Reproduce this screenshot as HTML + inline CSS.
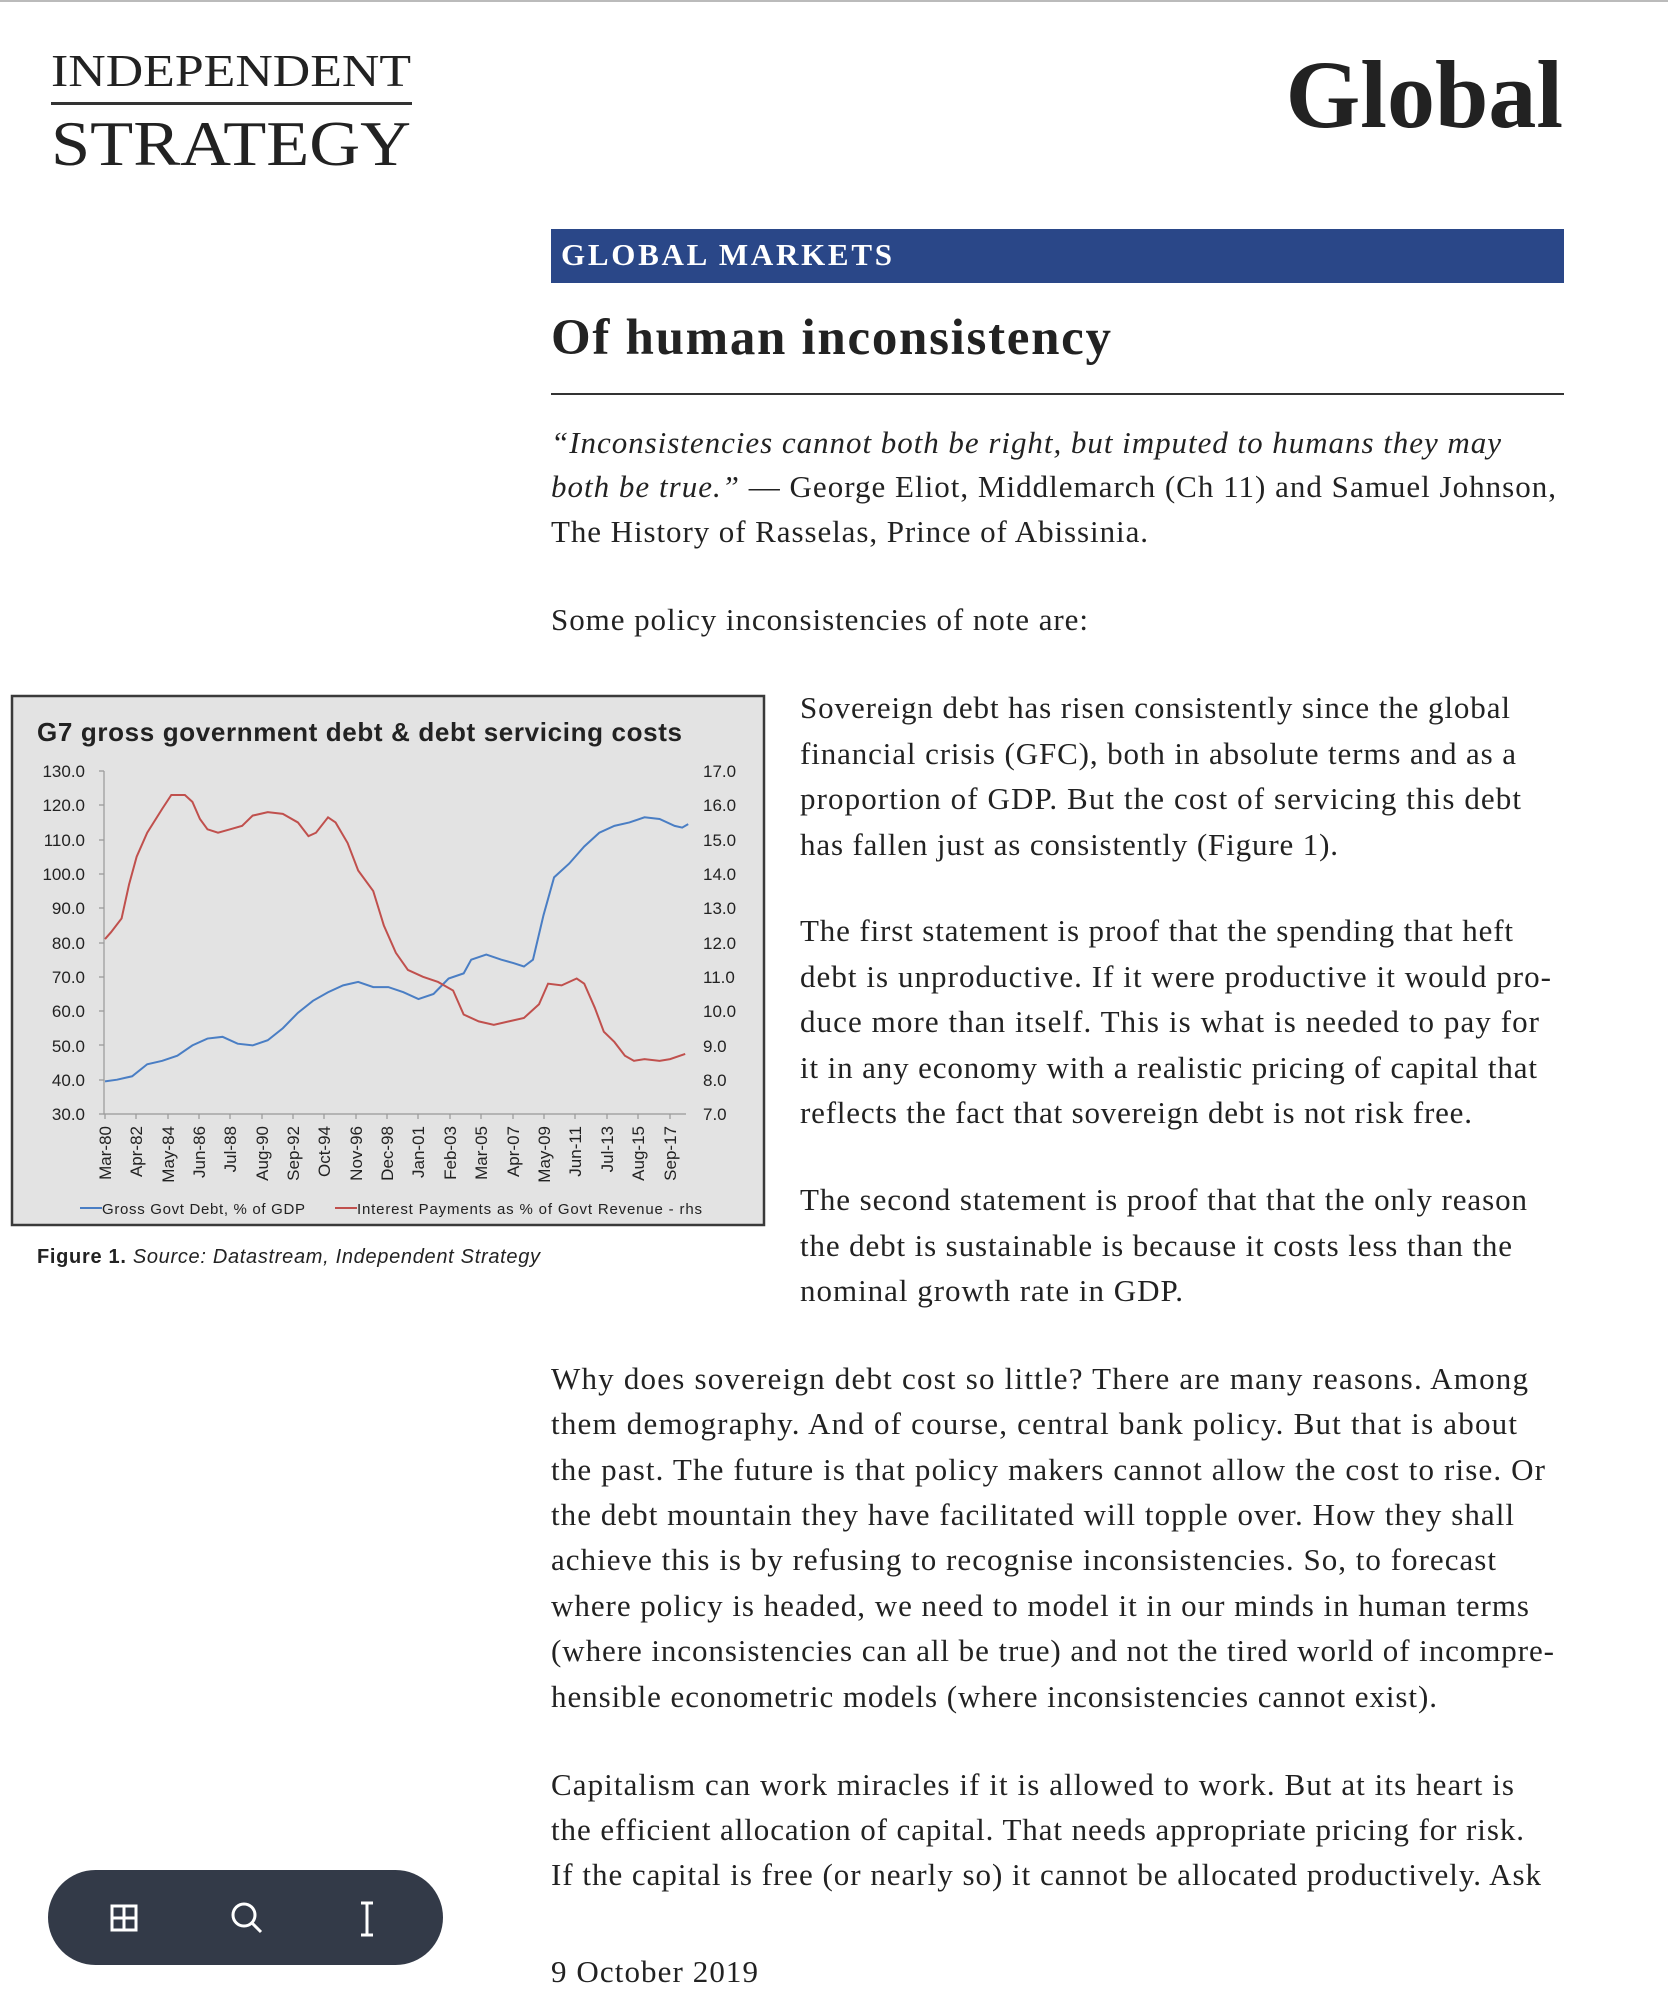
<!DOCTYPE html>
<html><head><meta charset="utf-8"><style>
html,body{margin:0;padding:0;background:#fff;}
svg{display:block;}
.b{font-family:"Liberation Serif",serif;font-size:31px;fill:#222;}
.q{font-style:italic;}
.t{font-family:"Liberation Sans",sans-serif;fill:#222;}
</style></head><body>
<svg width="1668" height="2001" viewBox="0 0 1668 2001" xmlns="http://www.w3.org/2000/svg">
<rect x="0" y="0" width="1668" height="2" fill="#bbb"/>
<text x="51" y="86" font-family="Liberation Serif,serif" font-size="46" fill="#222" textLength="360" lengthAdjust="spacingAndGlyphs">INDEPENDENT</text>
<rect x="51" y="102" width="361" height="3" fill="#333"/>
<text x="51" y="165" font-family="Liberation Serif,serif" font-size="64" fill="#222" textLength="360" lengthAdjust="spacingAndGlyphs">STRATEGY</text>
<text x="1563" y="127" text-anchor="end" font-family="Liberation Serif,serif" font-weight="bold" font-size="96" fill="#222">Global</text>
<rect x="551" y="229" width="1013" height="54" fill="#2a4788"/>
<text x="561" y="265" font-family="Liberation Serif,serif" font-weight="bold" font-size="31" fill="#fff" textLength="331">GLOBAL MARKETS</text>
<text x="551" y="354" font-family="Liberation Serif,serif" font-weight="bold" font-size="51" fill="#222" textLength="560">Of human inconsistency</text>
<rect x="551" y="393" width="1013" height="2" fill="#333"/>
<g class="b">
<text x="551" y="453" textLength="950"><tspan class="q">“Inconsistencies cannot both be right, but imputed to humans they may</tspan></text>
<text x="551" y="497" textLength="1005"><tspan class="q">both be true.”</tspan> — George Eliot, Middlemarch (Ch 11) and Samuel Johnson,</text>
<text x="551" y="542" textLength="597">The History of Rasselas, Prince of Abissinia.</text>
<text x="551" y="630" textLength="537">Some policy inconsistencies of note are:</text>
<text x="800" y="718" textLength="710">Sovereign debt has risen consistently since the global</text>
<text x="800" y="764" textLength="716">financial crisis (GFC), both in absolute terms and as a</text>
<text x="800" y="809" textLength="721">proportion of GDP.  But the cost of servicing this debt</text>
<text x="800" y="855" textLength="538">has fallen just as consistently (Figure 1).</text>
<text x="800" y="941" textLength="713">The first statement is proof that the spending that heft</text>
<text x="800" y="987" textLength="751">debt is unproductive.  If it were productive it would pro-</text>
<text x="800" y="1032" textLength="739">duce more than itself.  This is what is needed to pay for</text>
<text x="800" y="1078" textLength="737">it in any economy with a realistic pricing of capital that</text>
<text x="800" y="1123" textLength="672">reflects the fact that sovereign debt is not risk free.</text>
<text x="800" y="1210" textLength="727">The second statement is proof that that the only reason</text>
<text x="800" y="1256" textLength="712">the debt is sustainable is because it costs less than the</text>
<text x="800" y="1301" textLength="383">nominal growth rate in GDP.</text>
<text x="551" y="1389" textLength="977">Why does sovereign debt cost so little?  There are many reasons.  Among</text>
<text x="551" y="1434" textLength="966">them demography.  And of course, central bank policy.  But that is about</text>
<text x="551" y="1480" textLength="994">the past.  The future is that policy makers cannot allow the cost to rise.  Or</text>
<text x="551" y="1525" textLength="963">the debt mountain they have facilitated will topple over.  How they shall</text>
<text x="551" y="1570" textLength="945">achieve this is by refusing to recognise inconsistencies.  So, to forecast</text>
<text x="551" y="1616" textLength="978">where policy is headed, we need to model it in our minds in human terms</text>
<text x="551" y="1661" textLength="1003">(where inconsistencies can all be true) and not the tired world of incompre-</text>
<text x="551" y="1707" textLength="886">hensible econometric models (where inconsistencies cannot exist).</text>
<text x="551" y="1795" textLength="963">Capitalism can work miracles if it is allowed to work.  But at its heart is</text>
<text x="551" y="1840" textLength="973">the efficient allocation of capital.  That needs appropriate pricing for risk.</text>
<text x="551" y="1885" textLength="990">If the capital is free (or nearly so) it cannot be allocated productively.  Ask</text>
<text x="551" y="1982" textLength="207">9 October 2019</text>
</g>
<!-- chart -->
<rect x="12" y="696" width="752" height="529" fill="#e3e3e3" stroke="#3a3a3a" stroke-width="2.5"/>
<text class="t" x="37" y="741" font-size="26" font-weight="bold" textLength="645">G7 gross government debt &amp; debt servicing costs</text>
<g class="t" font-size="17">
<g text-anchor="end">
<text x="85" y="777">130.0</text><text x="85" y="811">120.0</text><text x="85" y="846">110.0</text><text x="85" y="880">100.0</text><text x="85" y="914">90.0</text><text x="85" y="949">80.0</text><text x="85" y="983">70.0</text><text x="85" y="1017">60.0</text><text x="85" y="1052">50.0</text><text x="85" y="1086">40.0</text><text x="85" y="1120">30.0</text>
</g>
<text x="703" y="777">17.0</text><text x="703" y="811">16.0</text><text x="703" y="846">15.0</text><text x="703" y="880">14.0</text><text x="703" y="914">13.0</text><text x="703" y="949">12.0</text><text x="703" y="983">11.0</text><text x="703" y="1017">10.0</text><text x="703" y="1052">9.0</text><text x="703" y="1086">8.0</text><text x="703" y="1120">7.0</text>
</g>
<g stroke="#999" stroke-width="1.2" fill="none">
<path d="M104 771V1114H686"/>
<path d="M99 771H104M99 805H104M99 840H104M99 874H104M99 908H104M99 943H104M99 977H104M99 1011H104M99 1045H104M99 1080H104M99 1114H104"/>
<path d="M105 1114v5M136 1114v5M168 1114v5M199 1114v5M230 1114v5M262 1114v5M293 1114v5M324 1114v5M356 1114v5M387 1114v5M418 1114v5M450 1114v5M481 1114v5M513 1114v5M544 1114v5M575 1114v5M607 1114v5M638 1114v5M670 1114v5"/>
</g>
<g class="t" font-size="17" text-anchor="end">
<text transform="translate(111,1126) rotate(-90)">Mar-80</text>
<text transform="translate(142,1126) rotate(-90)">Apr-82</text>
<text transform="translate(174,1126) rotate(-90)">May-84</text>
<text transform="translate(205,1126) rotate(-90)">Jun-86</text>
<text transform="translate(236,1126) rotate(-90)">Jul-88</text>
<text transform="translate(268,1126) rotate(-90)">Aug-90</text>
<text transform="translate(299,1126) rotate(-90)">Sep-92</text>
<text transform="translate(330,1126) rotate(-90)">Oct-94</text>
<text transform="translate(362,1126) rotate(-90)">Nov-96</text>
<text transform="translate(393,1126) rotate(-90)">Dec-98</text>
<text transform="translate(424,1126) rotate(-90)">Jan-01</text>
<text transform="translate(456,1126) rotate(-90)">Feb-03</text>
<text transform="translate(487,1126) rotate(-90)">Mar-05</text>
<text transform="translate(519,1126) rotate(-90)">Apr-07</text>
<text transform="translate(550,1126) rotate(-90)">May-09</text>
<text transform="translate(581,1126) rotate(-90)">Jun-11</text>
<text transform="translate(613,1126) rotate(-90)">Jul-13</text>
<text transform="translate(644,1126) rotate(-90)">Aug-15</text>
<text transform="translate(676,1126) rotate(-90)">Sep-17</text>
</g>
<g transform="translate(105,1114) scale(15.07,-3.43)">
<polyline fill="none" stroke="#4a7ec4" stroke-width="2" vector-effect="non-scaling-stroke" points="0,9.5 0.8,10 1.8,11 2.8,14.5 3.8,15.5 4.8,17 5.8,20 6.8,22 7.8,22.5 8.8,20.5 9.8,20 10.8,21.5 11.8,25 12.8,29.5 13.8,33 14.8,35.5 15.8,37.5 16.8,38.5 17.8,37 18.8,37 19.8,35.5 20.8,33.5 21.8,35 22.8,39.5 23.8,41 24.3,45 25.3,46.5 26.3,45 27.1,44 27.8,43 28.4,45 29.1,58 29.8,69 30.8,73 31.8,78 32.8,82 33.8,84 34.8,85 35.8,86.5 36.8,86 37.8,84 38.3,83.5 38.7,84.5"/>
</g>
<g transform="translate(105,1114) scale(15.07,-34.3)">
<polyline fill="none" stroke="#c0504d" stroke-width="2" vector-effect="non-scaling-stroke" points="0,5.1 0.4,5.3 1.1,5.7 1.6,6.7 2.1,7.5 2.8,8.2 3.8,8.9 4.4,9.3 5.3,9.3 5.8,9.1 6.3,8.6 6.8,8.3 7.5,8.2 8.3,8.3 9.1,8.4 9.8,8.7 10.8,8.8 11.8,8.75 12.8,8.5 13.5,8.1 14,8.2 14.8,8.65 15.3,8.5 16.1,7.9 16.8,7.1 17.8,6.5 18.5,5.5 19.3,4.7 20.1,4.2 21.1,4 22.1,3.85 23.1,3.6 23.8,2.9 24.8,2.7 25.8,2.6 26.8,2.7 27.8,2.8 28.8,3.2 29.4,3.8 30.3,3.75 31.3,3.95 31.8,3.8 32.5,3.1 33.1,2.4 33.8,2.1 34.5,1.7 35.1,1.55 35.8,1.6 36.8,1.55 37.5,1.6 38.5,1.75"/>
</g>
<path d="M80 1208H102" stroke="#4a7ec4" stroke-width="2"/>
<text class="t" x="102" y="1214" font-size="15" textLength="203">Gross Govt Debt, % of GDP</text>
<path d="M335 1208H357" stroke="#c0504d" stroke-width="2"/>
<text class="t" x="357" y="1214" font-size="15" textLength="345">Interest Payments as % of Govt Revenue - rhs</text>
<text class="t" x="37" y="1263" font-size="20" textLength="503"><tspan font-weight="bold">Figure 1.</tspan>  <tspan font-style="italic">Source: Datastream, Independent Strategy</tspan></text>
<!-- toolbar -->
<rect x="48" y="1870" width="395" height="95" rx="47.5" fill="#333a48"/>
<g stroke="#fff" stroke-width="3" fill="none">
<rect x="112" y="1906" width="24" height="24"/>
<path d="M124 1906V1930M112 1918H136"/>
<circle cx="244" cy="1915" r="11"/>
<path d="M252 1923L261 1932"/>
<path d="M367 1903V1935M361 1903H373M361 1935H373"/>
</g>
</svg>
</body></html>
